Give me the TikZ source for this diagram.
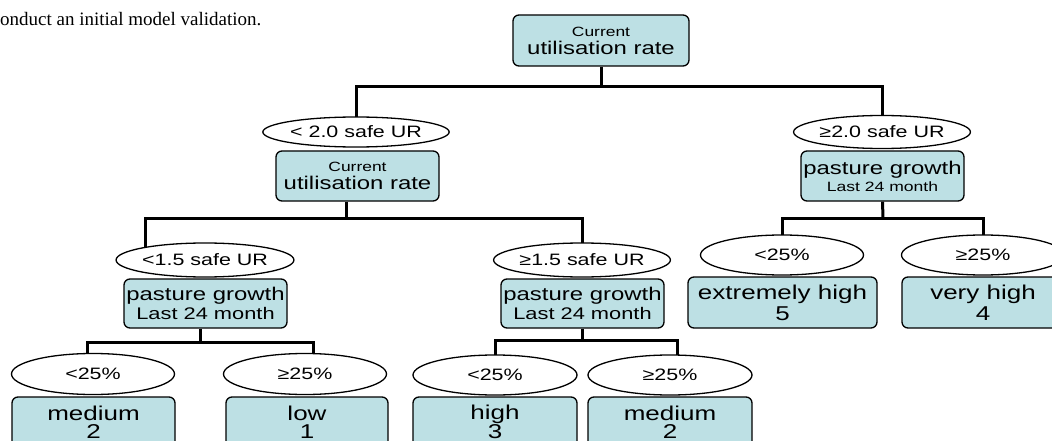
\documentclass[tikz,border=0pt]{standalone}
\usepackage{fontspec}
\setmainfont{Liberation Sans}[FakeStretch=1.3]
\newfontfamily\bodyserif{Liberation Serif}
\usetikzlibrary{shapes.geometric,backgrounds}
\definecolor{boxblue}{RGB}{189,224,228}
\newcommand\szCur{\fontsize{13.4}{15}\selectfont}
\newcommand\szIn{\fontsize{18.4}{20}\selectfont}
\newcommand\szLeaf{\fontsize{20}{22}\selectfont}
\newcommand\szEl{\fontsize{16.5}{18}\selectfont}
\newcommand\szLast{\fontsize{16.8}{18}\selectfont}
\newcommand\szLastS{\fontsize{13.5}{15}\selectfont}
\tikzset{
  box/.style={draw=black, fill=boxblue, rounded corners=6pt, line width=1.3pt, inner sep=0pt, align=center},
  cond/.style={draw=black, fill=white, ellipse, line width=1.3pt, inner sep=0pt, align=center},
  tree/.style={line width=3pt},
  lsp/.style={font=\fontsize{10}{#1}\selectfont},
}
\begin{document}
\begin{tikzpicture}[x=1pt,y=-1pt]
\useasboundingbox (0,0) rectangle (1052,441);
\clip (0,0) rectangle (1052,441);
\node[anchor=base west, inner sep=0pt] (txt) at (0,26) {\bodyserif\fontsize{19}{22}\selectfont onduct an initial model validation.};
% level 0
\node[box, lsp=18, minimum width=176, minimum height=51] (R) at (601,40.5) {\szCur Current\\\szIn utilisation rate};
% level 1
\node[cond, minimum width=162, minimum height=30] (E1) at (356,132) {\szEl < 2.0 safe UR};
\node[box, lsp=18, minimum width=163, minimum height=50] (B1) at (357.5,176) {\szCur Current\\\szIn utilisation rate};
\node[cond, minimum width=163, minimum height=33] (E2) at (882,132) {\szEl ≥2.0 safe UR};
\node[box, lsp=17, minimum width=163, minimum height=50] (B2) at (882.5,176) {\szIn pasture growth\\\szLastS Last 24 month};
% level 2
\node[cond, minimum width=164, minimum height=34] (E5) at (205,260) {\szEl <1.5 safe UR};
\node[box, lsp=19, minimum width=163, minimum height=49] (B5) at (205.5,303.5) {\szIn pasture growth\\\szLast Last 24 month};
\node[cond, minimum width=163, minimum height=34] (E8) at (582,260) {\szEl ≥1.5 safe UR};
\node[box, lsp=19, minimum width=163, minimum height=49] (B8) at (582.5,303.5) {\szIn pasture growth\\\szLast Last 24 month};
\node[cond, minimum width=163, minimum height=40] (E3) at (782,255) {\szEl <25\%};
\node[box, lsp=21, minimum width=189, minimum height=51] (B3) at (782.5,302.5) {\szLeaf extremely high\\\szLeaf 5};
\node[cond, minimum width=163, minimum height=40] (E4) at (983,255) {\szEl ≥25\%};
\node[box, lsp=21, minimum width=162, minimum height=51] (B4) at (983,302.5) {\szLeaf very high\\\szLeaf 4};
% level 3
\node[cond, minimum width=163, minimum height=41] (E6) at (93,374) {\szEl <25\%};
\node[box, lsp=18, minimum width=163, minimum height=53, text depth=3pt] (B6) at (93.5,423.5) {\szLeaf medium\\\szLeaf 2};
\node[cond, minimum width=163, minimum height=41] (E7) at (305,374) {\szEl ≥25\%};
\node[box, lsp=18, minimum width=162, minimum height=53, text depth=3pt] (B7) at (307,423.5) {\szLeaf low\\\szLeaf 1};
\node[cond, minimum width=164, minimum height=40] (E9) at (495,375) {\szEl <25\%};
\node[box, lsp=18, minimum width=164, minimum height=53, text depth=3pt] (B9) at (495,423.5) {\szLeaf high\\\szLeaf 3};
\node[cond, minimum width=164, minimum height=40] (E10) at (670,375) {\szEl ≥25\%};
\node[box, lsp=18, minimum width=164, minimum height=53, text depth=3pt] (B10) at (670,423.5) {\szLeaf medium\\\szLeaf 2};
% junctions
\coordinate (j0) at (601,87);
\coordinate (j1) at (346,218);
\coordinate (j1l) at (145,218);
\coordinate (j2) at (883,218);
\coordinate (j3) at (200,342);
\coordinate (j3l) at (87,342);
\coordinate (j3r) at (313,342);
\coordinate (j4) at (582,340);
\coordinate (j4r) at (677,340);
\begin{scope}[on background layer]
\draw[tree] (R.south) -- (j0);
\draw[tree] (E1.center) |- (j0) -| (E2.center);
\draw[tree] (j1 |- B1.south) -- (j1);
\draw[tree] (E5.center -| j1l) |- (j1) -| (E8.center);
\draw[tree] (B2.south) -- (j2);
\draw[tree] (E3.center) |- (j2) -| (E4.center);
\draw[tree] (j3 |- B5.south) -- (j3);
\draw[tree] (E6.center -| j3l) |- (j3r) -- (E7.center -| j3r);
\draw[tree] (j4 |- B8.south) -- (j4);
\draw[tree] (E9.center) |- (j4r) -- (E10.center -| j4r);
\end{scope}
\end{tikzpicture}
\end{document}
